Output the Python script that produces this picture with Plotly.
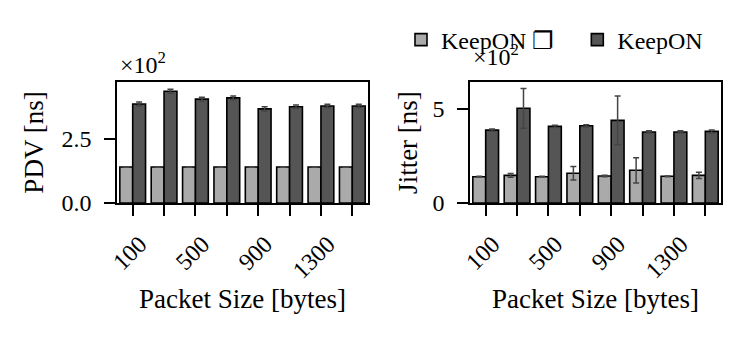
import plotly.graph_objects as go

W, H = 746, 339

categories = ["100", "300", "500", "700", "900", "1100", "1300", "1500"]
tick_labels = ["100", "", "500", "", "900", "", "1300", ""]

pdv_light = [141, 141, 141, 141, 141, 141, 141, 141]
pdv_light_err = [1, 1, 1, 1, 1, 1, 1, 1]
pdv_dark = [387, 437, 406, 411, 368, 376, 379, 379]
pdv_dark_err = [8, 8, 7, 7, 8, 7, 7, 7]

jit_light = [140, 147, 140, 158, 144, 174, 142, 147]
jit_light_err = [2, 10, 2, 36, 4, 67, 2, 16]
jit_dark = [388, 504, 408, 411, 440, 378, 378, 381]
jit_dark_err = [6, 106, 6, 6, 130, 6, 6, 8]

series_names = ["KeepON \u2750" + "\u00a0" * 3, "KeepON"]
light, dark = "#aaaaaa", "#555555"
FONT = "Liberation Serif, Times New Roman, serif"
FS = 27
TFS = 24

def px_x(p):
    return p / W

def px_y(p):
    return 1 - p / H

fig = go.Figure()

def add_bars(xa, ya, vals, errs, color, name, show):
    fig.add_trace(go.Bar(
        x=categories, y=vals, name=name, showlegend=show, legendgroup=name,
        marker=dict(color=color, line=dict(color="black", width=1.6)),
        error_y=dict(type="data", array=errs, color="#444444", thickness=1.5, width=3),
        xaxis=xa, yaxis=ya,
    ))

add_bars("x", "y", pdv_light, pdv_light_err, light, series_names[0], True)
add_bars("x", "y", pdv_dark, pdv_dark_err, dark, series_names[1], True)
add_bars("x2", "y2", jit_light, jit_light_err, light, series_names[0], False)
add_bars("x2", "y2", jit_dark, jit_dark_err, dark, series_names[1], False)

xcommon = dict(
    type="category", categoryorder="array", categoryarray=categories,
    tickmode="array", tickvals=categories, ticktext=tick_labels,
    tickangle=-45, ticks="outside", ticklen=11, tickwidth=1.5, tickcolor="black",
    showline=True, linecolor="black", linewidth=1.5, mirror=True,
    showgrid=False, zeroline=False, range=[-0.5, 7.5], automargin=False,
    tickfont=dict(family=FONT, size=TFS, color="black"),
    ticklabelshift=7, ticklabelstandoff=5,
    title=dict(text="Packet Size [bytes]", font=dict(family=FONT, size=FS, color="black"), standoff=6),
)
ycommon = dict(
    ticks="outside", ticklen=11, tickwidth=1.5, tickcolor="black",
    showline=True, linecolor="black", linewidth=1.5, mirror=True,
    showgrid=False, zeroline=False, automargin=False,
    tickfont=dict(family=FONT, size=TFS, color="black"),
    ticklabelstandoff=8,
)

fig.update_layout(
    width=W, height=H,
    margin=dict(l=0, r=0, t=0, b=0, autoexpand=False),
    paper_bgcolor="white", plot_bgcolor="white",
    barmode="group", bargap=0.18, bargroupgap=0,
    font=dict(family=FONT, size=FS, color="black"),
    xaxis=dict(domain=[px_x(117), px_x(368)], anchor="y", **xcommon),
    xaxis2=dict(domain=[px_x(470), px_x(721)], anchor="y2", **xcommon),
    yaxis=dict(domain=[px_y(203), px_y(82)], anchor="x", range=[0, 473],
               tickvals=[0, 250], ticktext=["0.0", "2.5"],
               title=dict(text="PDV [ns]", font=dict(family=FONT, size=FS, color="black"), standoff=10),
               **ycommon),
    yaxis2=dict(domain=[px_y(203), px_y(82)], anchor="x2", range=[0, 644],
                tickvals=[0, 500], ticktext=["0", "5"],
                title=dict(text="Jitter [ns]", font=dict(family=FONT, size=FS, color="black"), standoff=7),
                **ycommon),
    legend=dict(orientation="h", x=px_x(401), xanchor="left", y=px_y(40), yanchor="middle",
                font=dict(family=FONT, size=TFS, color="black"), itemwidth=30,
                bgcolor="rgba(0,0,0,0)"),
    annotations=[
        dict(text="\u00d710<sup>2</sup>", xref="paper", yref="paper", x=px_x(118), y=px_y(63),
             xanchor="left", yanchor="middle", showarrow=False, font=dict(family=FONT, size=TFS)),
        dict(text="\u00d710<sup>2</sup>", xref="paper", yref="paper", x=px_x(471), y=px_y(55),
             xanchor="left", yanchor="middle", showarrow=False, font=dict(family=FONT, size=TFS)),
    ],
)

fig.write_html("out.html", config={"displayModeBar": False},
               post_script="document.body.style.margin='0';document.body.style.overflow='hidden';")
